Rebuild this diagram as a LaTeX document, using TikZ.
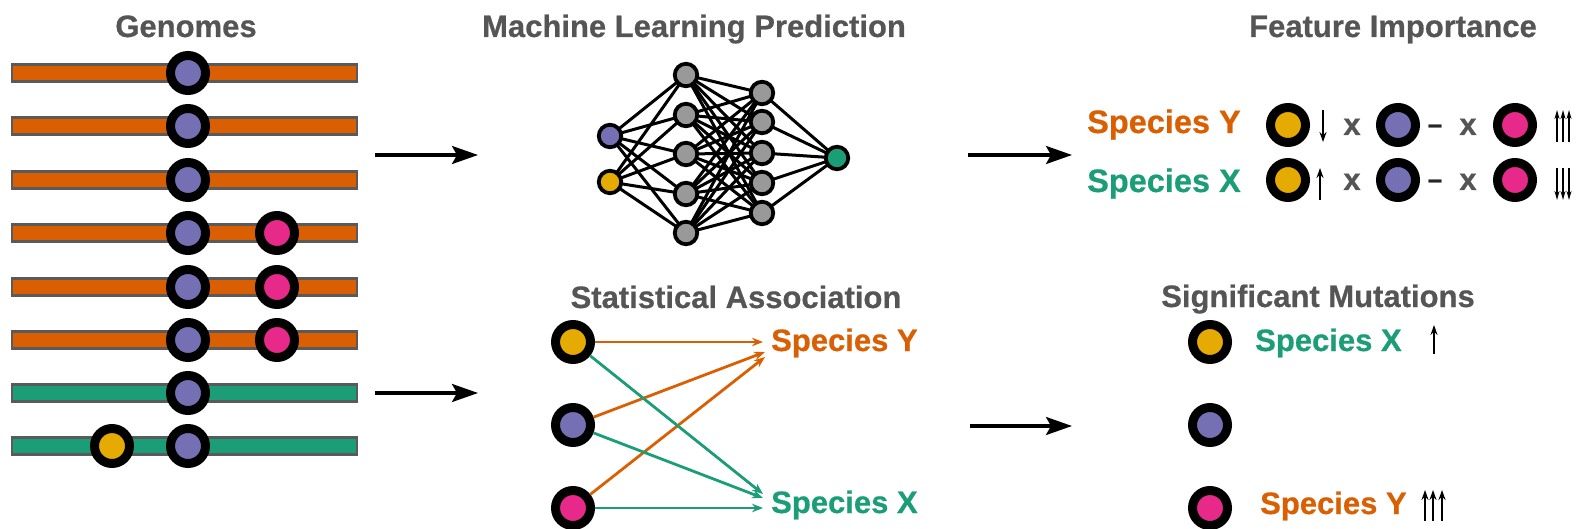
\documentclass[tikz,border=0pt]{standalone}
\usepackage{fontspec}
\setmainfont{Liberation Sans}[BoldFeatures={FakeBold=0.6}]
\usetikzlibrary{arrows.meta,backgrounds}
\definecolor{dkorange}{HTML}{D95F02}
\definecolor{dkgreen}{HTML}{1B9E77}
\definecolor{dkpurple}{HTML}{7570B3}
\definecolor{dkpink}{HTML}{E7298A}
\definecolor{dkyellow}{HTML}{E6AB02}
\definecolor{titlegray}{HTML}{555555}
\definecolor{bargray}{HTML}{5A5A5A}
\definecolor{nodegray}{HTML}{999999}
\begin{document}
\begin{tikzpicture}[x=1pt,y=-1pt,
  mut/.style={circle, draw=black, line width=9pt, minimum size=35pt, inner sep=0pt, fill=#1},
  neuron/.style={circle, draw=black, line width=3.8pt, minimum size=22.5pt, inner sep=0pt, fill=#1},
  bar/.style={draw=bargray, line width=2.2pt, fill=#1},
  title/.style={font=\fontsize{31}{31}\selectfont\bfseries, text=titlegray, anchor=base, inner sep=0pt},
  spec/.style={font=\fontsize{#1}{#1}\selectfont\bfseries, anchor=base west, inner sep=0pt},
  times/.style={font=\fontsize{31}{31}\selectfont\bfseries, text=titlegray, anchor=base, inner sep=0pt},
  dashmark/.style={font=\fontsize{26}{26}\selectfont\bfseries, text=black!85, anchor=base, inner sep=0pt},
  flow/.style={line width=3.2pt, -{Stealth[length=26pt,width=18pt,inset=5pt]}},
  assoc/.style={line width=2.8pt, draw=#1, -{Stealth[length=11pt,width=8.5pt]}},
  tick/.style={line width=2.5pt, -{Stealth[length=10pt,width=7pt]}},
  smalltick/.style={line width=2.2pt, -{Stealth[length=9pt,width=5pt]}},
  wire/.style={line width=3pt}
]
\useasboundingbox (0,0) rectangle (1579,529);

% ---------------- Genomes ----------------
\node[title] (tgen) at (186,37) {Genomes};
\foreach \y/\c in {73/dkorange,126/dkorange,180/dkorange,233/dkorange,287/dkorange,340/dkorange,393/dkgreen,446/dkgreen}
  \draw[bar=\c] (12,\y-8.5) rectangle (357,\y+8.5);
\foreach \y [count=\i] in {73,126,180,233,287,340,393,446}
  \node[mut=dkpurple] (gb\i) at (188,\y) {};
\node[mut=dkpink] (gp4) at (277,233) {};
\node[mut=dkpink] (gp5) at (277,287) {};
\node[mut=dkpink] (gp6) at (277,340) {};
\node[mut=dkyellow] (gy8) at (112,446) {};

% flow arrows between stages
\coordinate (a1s) at (375,155);  \coordinate (a1e) at (478,155);
\coordinate (a2s) at (375,393);  \coordinate (a2e) at (478,393);
\coordinate (a3s) at (968,155);  \coordinate (a3e) at (1072,155);
\coordinate (a4s) at (970,426);  \coordinate (a4e) at (1072,426);
\draw[flow] (a1s) -- (a1e);
\draw[flow] (a2s) -- (a2e);
\draw[flow] (a3s) -- (a3e);
\draw[flow] (a4s) -- (a4e);

% ---------------- Machine learning ----------------
\node[title] (tml) at (694,37) {Machine Learning Prediction};
\node[neuron=dkpurple] (in1) at (610,136) {};
\node[neuron=dkyellow] (in2) at (610,182) {};
\foreach \y [count=\i] in {75,115,154,194,233}
  \node[neuron=nodegray] (ha\i) at (686,\y) {};
\foreach \y [count=\i] in {93,122,153,183,213}
  \node[neuron=nodegray] (hb\i) at (762,\y) {};
\node[neuron=dkgreen] (out) at (837,158) {};
\begin{scope}[on background layer]
  \foreach \i in {1,2} \foreach \j in {1,...,5}
    \draw[wire] (in\i.center) -- (ha\j.center);
  \foreach \i in {1,...,5} \foreach \j in {1,...,5}
    \draw[wire] (ha\i.center) -- (hb\j.center);
  \foreach \i in {1,...,5}
    \draw[wire] (hb\i.center) -- (out.center);
\end{scope}

% ---------------- Statistical association ----------------
\node[title] (tsa) at (736,308) {Statistical Association};
\node[mut=dkyellow] (sa1) at (573,342) {};
\node[mut=dkpurple] (sa2) at (573,425) {};
\node[mut=dkpink]   (sa3) at (573,508) {};
\node[spec=31, text=dkorange] (sy) at (771,351) {Species Y};
\node[spec=31, text=dkgreen]  (sx) at (771,513) {Species X};
\coordinate (ty1) at (763,342);
\coordinate (ty2) at (765,352);
\coordinate (ty3) at (765,357);
\coordinate (tx1) at (763,494);
\coordinate (tx2) at (763,498);
\coordinate (tx3) at (763,508);
\draw[assoc=dkorange] (sa1) -- (ty1);
\draw[assoc=dkorange] (sa2) -- (ty2);
\draw[assoc=dkorange] (sa3) -- (ty3);
\draw[assoc=dkgreen]  (sa1) -- (tx1);
\draw[assoc=dkgreen]  (sa2) -- (tx2);
\draw[assoc=dkgreen]  (sa3) -- (tx3);

% ---------------- Feature importance ----------------
\node[title] (tfi) at (1393,37) {Feature Importance};
\node[spec=32.5, text=dkorange] (fy) at (1087,133) {Species Y};
\node[spec=32.5, text=dkgreen]  (fx) at (1087,192) {Species X};
\node[mut=dkyellow] (fy1) at (1288,125) {};
\node[mut=dkpurple] (fy2) at (1398,125) {};
\node[mut=dkpink]   (fy3) at (1515,125) {};
\node[mut=dkyellow] (fx1) at (1288,180) {};
\node[mut=dkpurple] (fx2) at (1398,180) {};
\node[mut=dkpink]   (fx3) at (1515,180) {};
\node[times] (my1) at (1352,135) {x};
\node[times] (my2) at (1468,135) {x};
\node[times] (mx1) at (1352,190) {x};
\node[times] (mx2) at (1468,190) {x};
\node[dashmark] (dy) at (1435,133) {–};
\node[dashmark] (dx) at (1435,188) {–};
% effect ticks
\coordinate (fyd1) at (1323,110); \coordinate (fyd2) at (1323,142);
\draw[tick] (fyd1) -- (fyd2);
\coordinate (fxu1) at (1320,200); \coordinate (fxu2) at (1320,168);
\draw[tick] (fxu1) -- (fxu2);
\foreach \x in {1557,1563,1569} {
  \coordinate (fyu-\x) at (\x,142); \coordinate (fyv-\x) at (\x,110);
  \draw[smalltick] (fyu-\x) -- (fyv-\x);
  \coordinate (fxd-\x) at (\x,168); \coordinate (fxe-\x) at (\x,200);
  \draw[smalltick] (fxd-\x) -- (fxe-\x);
}

% ---------------- Significant mutations ----------------
\node[title] (tsm) at (1318,307) {Significant Mutations};
\node[mut=dkyellow] (sm1) at (1210,342) {};
\node[mut=dkpurple] (sm2) at (1210,425) {};
\node[mut=dkpink]   (sm3) at (1210,508) {};
\node[spec=31, text=dkgreen]  (smx) at (1255,351) {Species X};
\node[spec=31, text=dkorange] (smy) at (1260,514) {Species Y};
\coordinate (smu1) at (1434,354); \coordinate (smu2) at (1434,325);
\draw[tick] (smu1) -- (smu2);
\foreach \x in {1425,1433,1442} {
  \coordinate (smt-\x) at (\x,521); \coordinate (smh-\x) at (\x,490);
  \draw[tick] (smt-\x) -- (smh-\x);
}
\end{tikzpicture}
\end{document}
